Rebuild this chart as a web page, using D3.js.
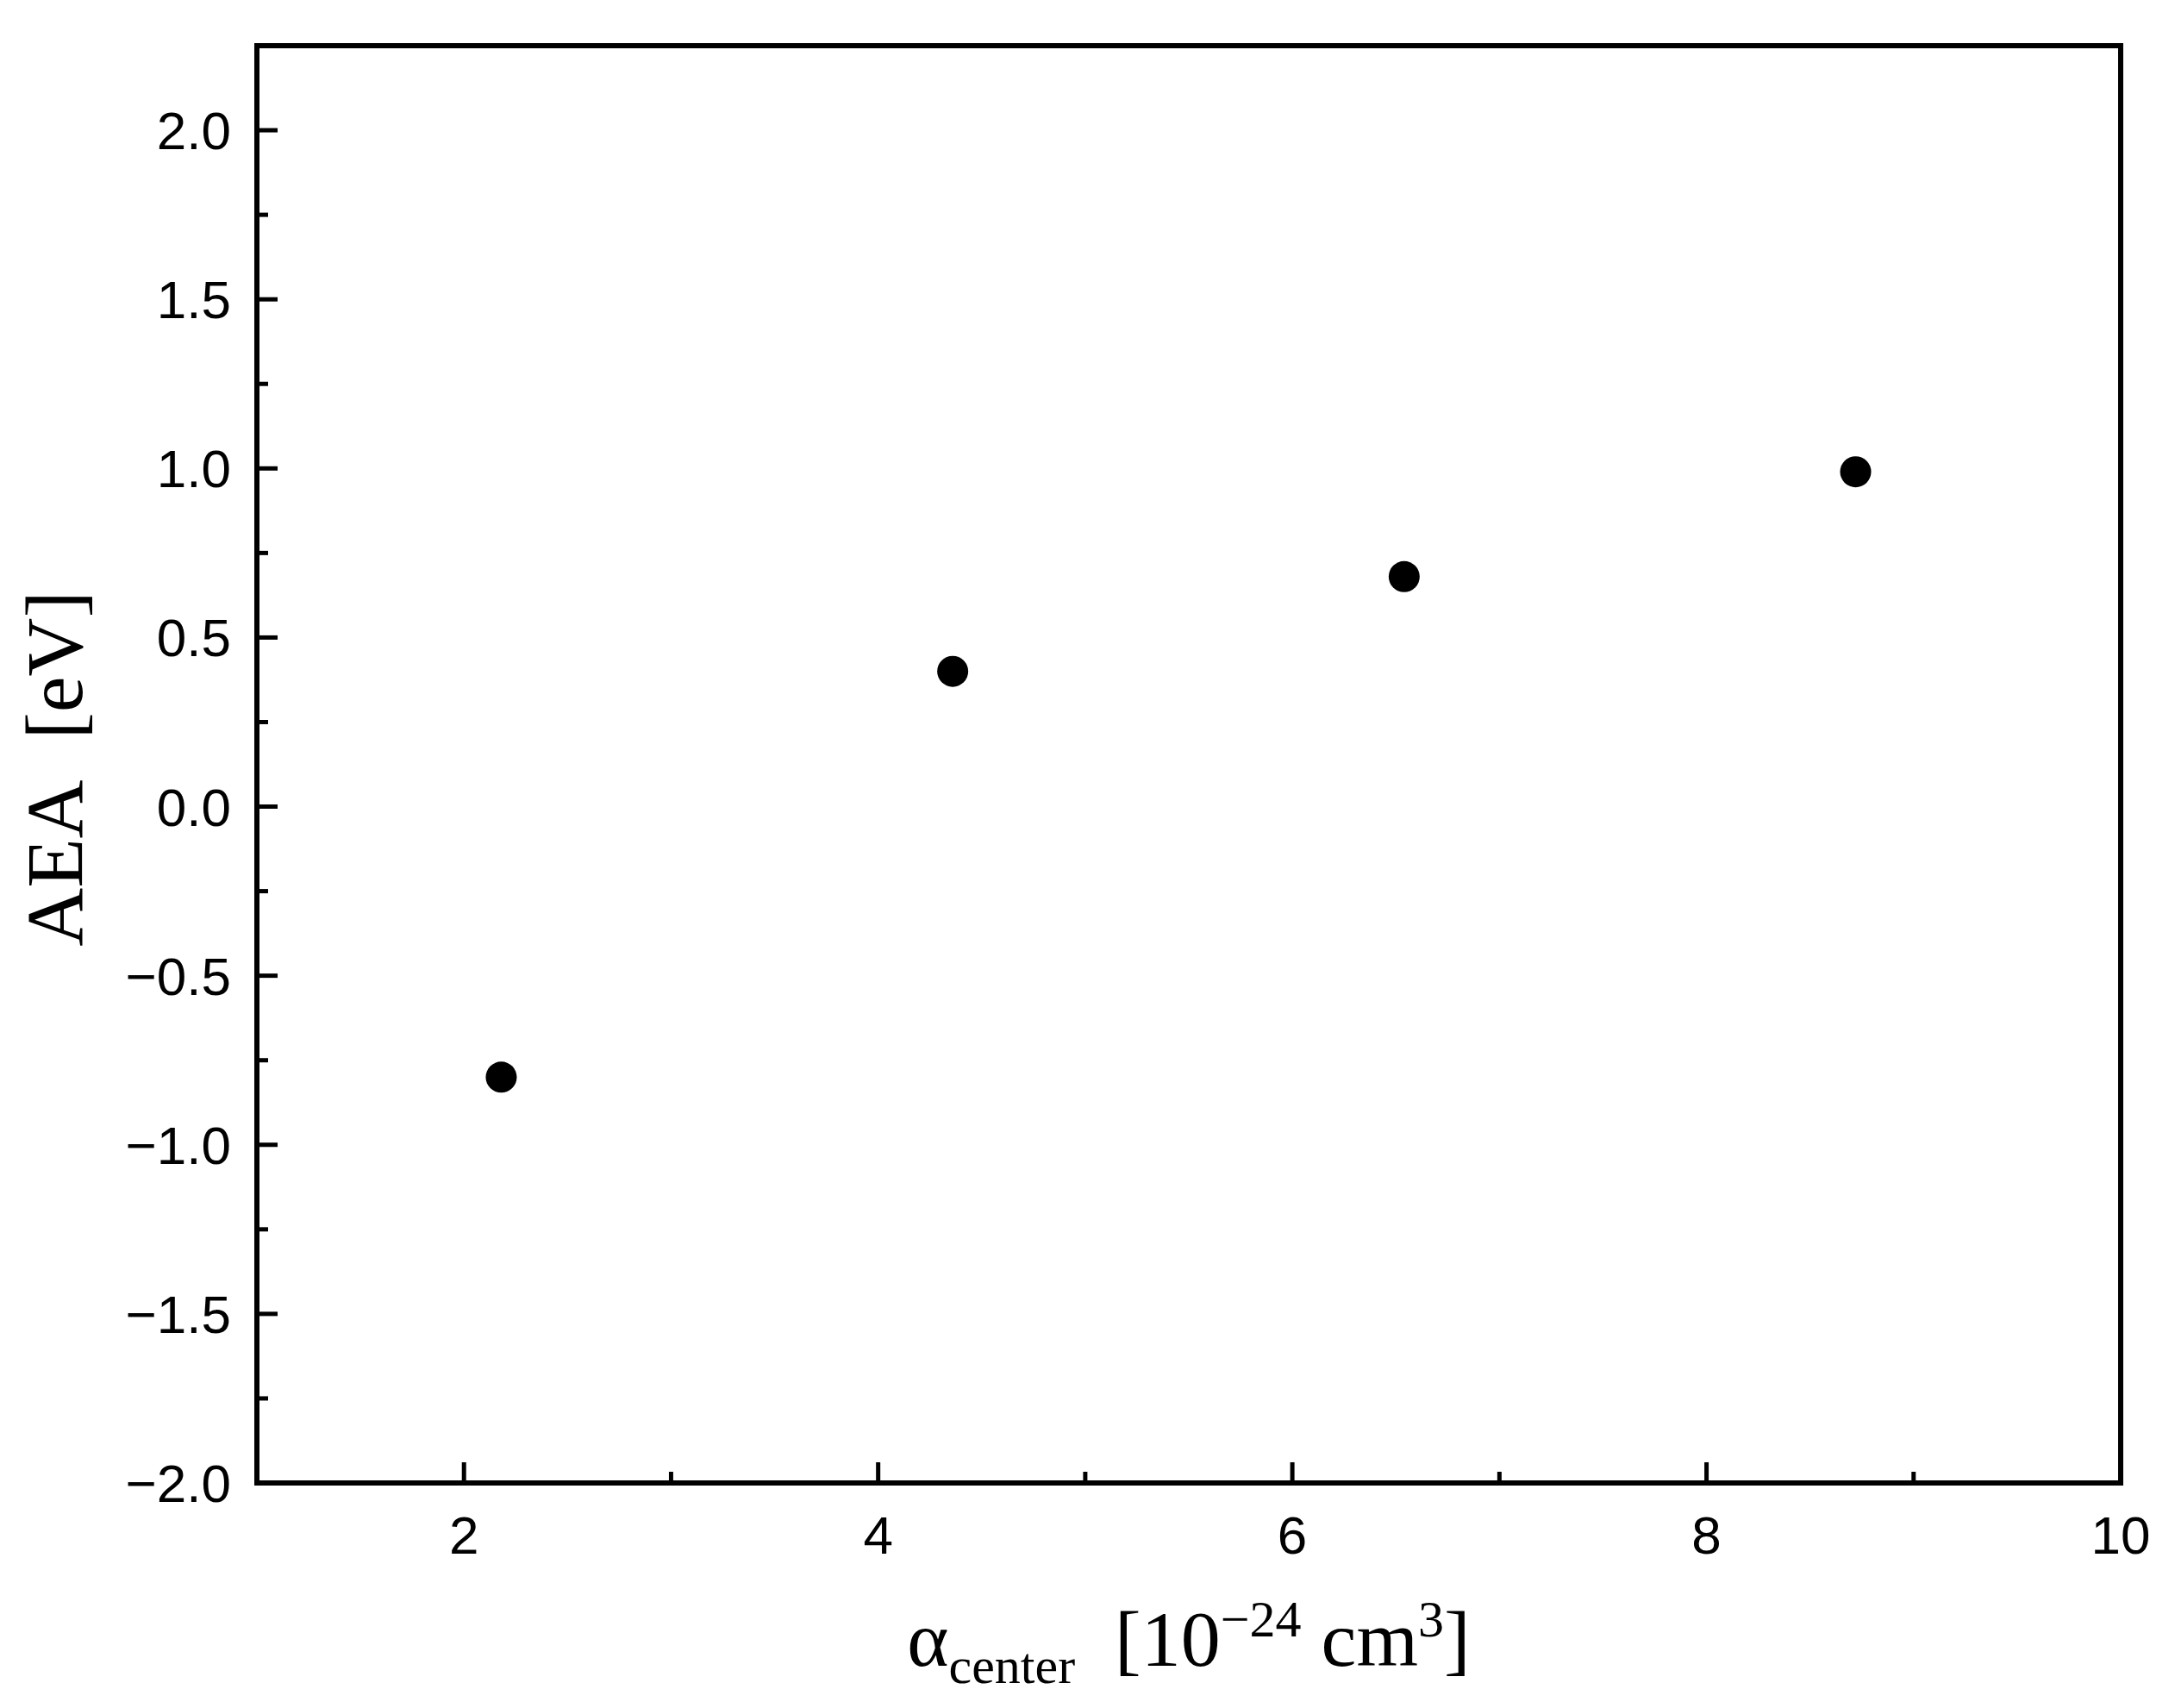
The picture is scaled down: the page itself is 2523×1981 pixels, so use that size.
<!DOCTYPE html><html><head><script src="https://d3js.org/d3.v7.min.js"></script>
<style>body{margin:0;background:#fff}</style></head><body><script>
const xs=[2.18,4.36,6.54,8.72];
const ys=[-0.80,0.40,0.68,0.99];
const xTicks=[2,4,6,8,10];
const yTicks=[-2.0,-1.5,-1.0,-0.5,0.0,0.5,1.0,1.5,2.0];
const W=2523,H=1981,L=298,R=2460,T=53,B=1720;
const svg=d3.select("body").append("svg").attr("width",W).attr("height",H);
const x=d3.scaleLinear().domain([1,10]).range([L,R]);
const y=d3.scaleLinear().domain([-2,2.25]).range([B,T]);
const minX=d3.range(1,10.01,1), minY=d3.range(-2,2.01,0.25);
svg.append("g").selectAll("line").data(minX).join("line").attr("x1",d=>x(d)).attr("x2",d=>x(d)).attr("y1",B).attr("y2",d=>xTicks.includes(d)?B-24:B-13).attr("stroke","#000").attr("stroke-width",5);
svg.append("g").selectAll("line").data(minY).join("line").attr("y1",d=>y(d)).attr("y2",d=>y(d)).attr("x1",L).attr("x2",d=>Math.abs(d*2-Math.round(d*2))<1e-6?L+24:L+13).attr("stroke","#000").attr("stroke-width",5);
svg.append("rect").attr("x",L).attr("y",T).attr("width",R-L).attr("height",B-T).attr("fill","none").attr("stroke","#000").attr("stroke-width",6);
svg.append("g").selectAll("text").data(xTicks).join("text").attr("x",d=>x(d)).attr("y",B+82).attr("text-anchor","middle").attr("font-family","Liberation Sans").attr("font-size",62).text(d=>d);
svg.append("g").selectAll("text").data(yTicks).join("text").attr("x",L-30).attr("y",d=>y(d)+22).attr("text-anchor","end").attr("font-family","Liberation Sans").attr("font-size",62).text(d=>(d<0?"\u2212":"")+Math.abs(d).toFixed(1));
svg.append("g").selectAll("circle").data(xs).join("circle").attr("cx",d=>x(d)).attr("cy",(d,i)=>y(ys[i])).attr("r",18).attr("fill","#000");
const xt=svg.append("text").attr("x",(L+R)/2).attr("y",1932).attr("text-anchor","middle").attr("font-family","Liberation Serif").attr("font-size",92).attr("xml:space","preserve");
xt.append("tspan").text("α");
xt.append("tspan").attr("font-size",60).attr("dy",20).text("center");
xt.append("tspan").attr("dy",-20).text("\u00a0\u00a0[10");
xt.append("tspan").attr("font-size",60).attr("dy",-34).text("−24");
xt.append("tspan").attr("dy",34).text("\u00a0cm");
xt.append("tspan").attr("font-size",60).attr("dy",-34).text("3");
xt.append("tspan").attr("dy",34).text("]");
svg.append("text").attr("transform",`translate(95,${(T+B)/2+5}) rotate(-90)`).attr("text-anchor","middle").attr("font-family","Liberation Serif").attr("font-size",94).text("AEA\u00a0\u00a0[eV]");
</script></body></html>
